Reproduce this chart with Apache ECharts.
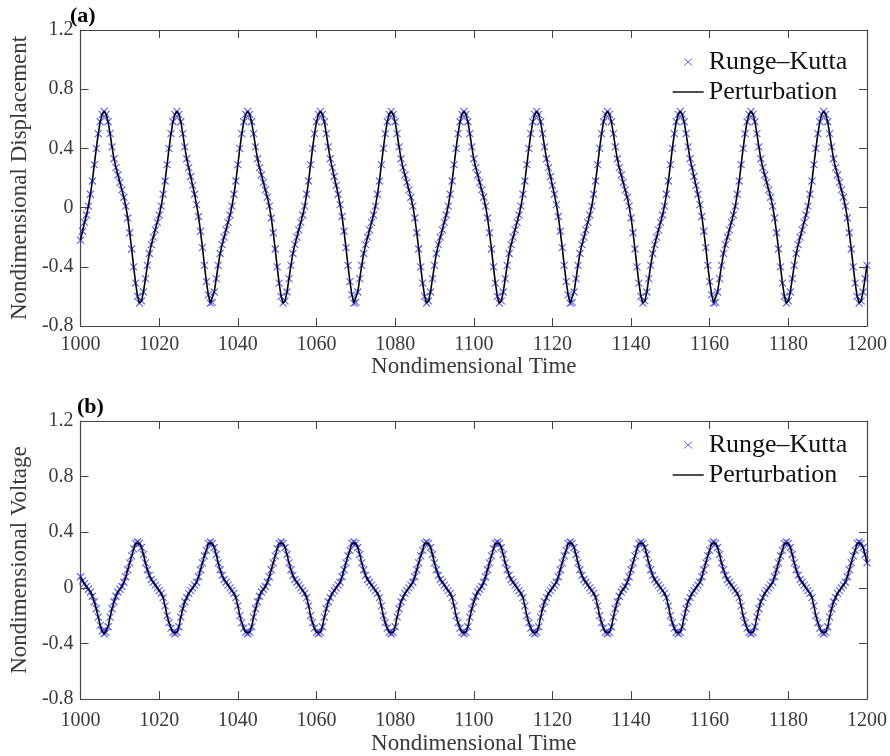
<!DOCTYPE html>
<html>
<head>
<meta charset="utf-8">
<script src="https://cdn.jsdelivr.net/npm/echarts@6/dist/echarts.min.js"></script>
<style>
html,body{margin:0;padding:0;background:#fff;}
#chart{width:890px;height:756px;}
</style>
</head>
<body>
<div id="chart"></div>
<script>
// ---- data ----
const timeStart = 1000;      // first sample time
const timeStep = 0.5;        // sampling step of the readings
const xTicks = [1000, 1020, 1040, 1060, 1080, 1100, 1120, 1140, 1160, 1180, 1200];
const yTicks = [-0.8, -0.4, 0, 0.4, 0.8, 1.2];
const seriesNames = ['Runge–Kutta', 'Perturbation'];

// (a) nondimensional displacement, t = 1000 ... 1200 every 0.5
const displacement = [
-0.22,-0.16,-0.10,-0.05,0.01,0.09,0.18,0.29,0.40,0.50,0.58,0.63,
0.65,0.63,0.58,0.50,0.41,0.33,0.27,0.22,0.17,0.12,0.07,0.01,-0.07,-0.17,-0.28,-0.40,-0.51,-0.60,-0.645,-0.63,-0.57,-0.48,-0.39,-0.31,-0.25,-0.20,-0.15,-0.10,-0.05,0.01,0.09,0.18,0.29,0.40,0.50,0.58,0.63,
0.65,0.63,0.58,0.50,0.41,0.33,0.27,0.21,0.15,0.09,0.02,-0.06,-0.16,-0.27,-0.39,-0.50,-0.59,-0.645,-0.64,-0.57,-0.48,-0.39,-0.31,-0.25,-0.20,-0.15,-0.10,-0.05,0.01,0.09,0.18,0.29,0.40,0.50,0.58,0.63,
0.65,0.63,0.58,0.50,0.41,0.33,0.27,0.22,0.17,0.12,0.07,0.01,-0.07,-0.17,-0.28,-0.40,-0.51,-0.60,-0.645,-0.63,-0.57,-0.48,-0.39,-0.31,-0.25,-0.20,-0.15,-0.10,-0.05,0.01,0.09,0.18,0.29,0.40,0.50,0.58,0.63,
0.65,0.63,0.58,0.50,0.41,0.33,0.27,0.21,0.15,0.09,0.02,-0.06,-0.16,-0.27,-0.39,-0.50,-0.59,-0.645,-0.64,-0.57,-0.48,-0.39,-0.31,-0.25,-0.20,-0.15,-0.10,-0.05,0.01,0.09,0.18,0.29,0.40,0.50,0.58,0.63,
0.65,0.63,0.58,0.50,0.41,0.33,0.27,0.22,0.17,0.12,0.07,0.01,-0.07,-0.17,-0.28,-0.40,-0.51,-0.60,-0.645,-0.63,-0.57,-0.48,-0.39,-0.31,-0.25,-0.20,-0.15,-0.10,-0.05,0.01,0.09,0.18,0.29,0.40,0.50,0.58,0.63,
0.65,0.63,0.58,0.50,0.41,0.33,0.27,0.22,0.17,0.12,0.07,0.01,-0.07,-0.17,-0.28,-0.40,-0.51,-0.60,-0.645,-0.63,-0.57,-0.48,-0.39,-0.31,-0.25,-0.20,-0.15,-0.10,-0.05,0.01,0.09,0.18,0.29,0.40,0.50,0.58,0.63,
0.65,0.63,0.58,0.50,0.41,0.33,0.27,0.21,0.15,0.09,0.02,-0.06,-0.16,-0.27,-0.39,-0.50,-0.59,-0.645,-0.64,-0.57,-0.48,-0.39,-0.31,-0.25,-0.20,-0.15,-0.10,-0.05,0.01,0.09,0.18,0.29,0.40,0.50,0.58,0.63,
0.65,0.63,0.58,0.50,0.41,0.33,0.27,0.22,0.17,0.12,0.07,0.01,-0.07,-0.17,-0.28,-0.40,-0.51,-0.60,-0.645,-0.63,-0.57,-0.48,-0.39,-0.31,-0.25,-0.20,-0.15,-0.10,-0.05,0.01,0.09,0.18,0.29,0.40,0.50,0.58,0.63,
0.65,0.63,0.58,0.50,0.41,0.33,0.27,0.21,0.15,0.09,0.02,-0.06,-0.16,-0.27,-0.39,-0.50,-0.59,-0.645,-0.64,-0.57,-0.48,-0.39,-0.31,-0.25,-0.20,-0.15,-0.10,-0.05,0.01,0.09,0.18,0.29,0.40,0.50,0.58,0.63,
0.65,0.63,0.58,0.50,0.41,0.33,0.27,0.22,0.17,0.12,0.07,0.01,-0.07,-0.17,-0.28,-0.40,-0.51,-0.60,-0.645,-0.63,-0.57,-0.48,-0.39,-0.31,-0.25,-0.20,-0.15,-0.10,-0.05,0.01,0.09,0.18,0.29,0.40,0.50,0.58,0.63,
0.65,0.63,0.58,0.50,0.41,0.33,0.27,0.22,0.17,0.12,0.07,0.01,-0.07,-0.17,-0.28,-0.40,-0.51,-0.60,-0.645,-0.63,-0.57,-0.48,-0.39
];

// (b) nondimensional voltage, t = 1000 ... 1200 every 0.5
const voltage = [
0.08,0.05,0.03,0.01,-0.01,-0.03,-0.06,-0.10,-0.15,-0.21,-0.27,-0.31,
-0.33,-0.32,-0.28,-0.21,-0.15,-0.10,-0.06,-0.03,-0.01,0.01,0.04,0.08,0.13,0.18,0.23,0.28,0.32,0.33,0.32,0.29,0.24,0.18,0.13,0.09,0.06,0.04,0.02,0.00,-0.02,-0.04,-0.07,-0.13,-0.20,-0.25,-0.29,-0.32,
-0.33,-0.32,-0.28,-0.21,-0.15,-0.10,-0.07,-0.04,-0.02,0.00,0.02,0.04,0.08,0.13,0.18,0.23,0.27,0.32,0.33,0.32,0.29,0.24,0.18,0.13,0.09,0.06,0.04,0.02,0.00,-0.02,-0.04,-0.07,-0.13,-0.20,-0.25,-0.29,-0.32,
-0.33,-0.32,-0.28,-0.21,-0.15,-0.10,-0.06,-0.03,-0.01,0.01,0.04,0.08,0.13,0.18,0.23,0.28,0.32,0.33,0.32,0.29,0.24,0.18,0.13,0.09,0.06,0.04,0.02,0.00,-0.02,-0.04,-0.07,-0.13,-0.20,-0.25,-0.29,-0.32,
-0.33,-0.32,-0.28,-0.21,-0.15,-0.10,-0.07,-0.04,-0.02,0.00,0.02,0.04,0.08,0.13,0.18,0.23,0.27,0.32,0.33,0.32,0.29,0.24,0.18,0.13,0.09,0.06,0.04,0.02,0.00,-0.02,-0.04,-0.07,-0.13,-0.20,-0.25,-0.29,-0.32,
-0.33,-0.32,-0.28,-0.21,-0.15,-0.10,-0.07,-0.04,-0.02,0.00,0.02,0.04,0.08,0.13,0.18,0.23,0.27,0.32,0.33,0.32,0.29,0.24,0.18,0.13,0.09,0.06,0.04,0.02,0.00,-0.02,-0.04,-0.07,-0.13,-0.20,-0.25,-0.29,-0.32,
-0.33,-0.32,-0.28,-0.21,-0.15,-0.10,-0.06,-0.03,-0.01,0.01,0.04,0.08,0.13,0.18,0.23,0.28,0.32,0.33,0.32,0.29,0.24,0.18,0.13,0.09,0.06,0.04,0.02,0.00,-0.02,-0.04,-0.07,-0.13,-0.20,-0.25,-0.29,-0.32,
-0.33,-0.32,-0.28,-0.21,-0.15,-0.10,-0.07,-0.04,-0.02,0.00,0.02,0.04,0.08,0.13,0.18,0.23,0.27,0.32,0.33,0.32,0.29,0.24,0.18,0.13,0.09,0.06,0.04,0.02,0.00,-0.02,-0.04,-0.07,-0.13,-0.20,-0.25,-0.29,-0.32,
-0.33,-0.32,-0.28,-0.21,-0.15,-0.10,-0.06,-0.03,-0.01,0.01,0.04,0.08,0.13,0.18,0.23,0.28,0.32,0.33,0.32,0.29,0.24,0.18,0.13,0.09,0.06,0.04,0.02,0.00,-0.02,-0.04,-0.07,-0.13,-0.20,-0.25,-0.29,-0.32,
-0.33,-0.32,-0.28,-0.21,-0.15,-0.10,-0.07,-0.04,-0.02,0.00,0.02,0.04,0.08,0.13,0.18,0.23,0.27,0.32,0.33,0.32,0.29,0.24,0.18,0.13,0.09,0.06,0.04,0.02,0.00,-0.02,-0.04,-0.07,-0.13,-0.20,-0.25,-0.29,-0.32,
-0.33,-0.32,-0.28,-0.21,-0.15,-0.10,-0.07,-0.04,-0.02,0.00,0.02,0.04,0.08,0.13,0.18,0.23,0.27,0.32,0.33,0.32,0.29,0.24,0.18,0.13,0.09,0.06,0.04,0.02,0.00,-0.02,-0.04,-0.07,-0.13,-0.20,-0.25,-0.29,-0.32,
-0.33,-0.32,-0.28,-0.21,-0.15,-0.10,-0.07,-0.04,-0.02,0.00,0.02,0.04,0.08,0.13,0.18,0.23,0.27,0.32,0.33,0.32,0.29,0.24,0.18
];

// Runge–Kutta markers lie on the perturbation curve in the picture
const rkDisplacement = displacement;
const rkVoltage = voltage;

// ---- chart ----
const FONT = '"Liberation Serif", "Times New Roman", serif';
const AXIS_COLOR = '#444';
const LABEL_COLOR = '#3a3a3a';
const CROSS = 'path://M0,0L10,10M10,0L0,10';
const CROSS_ICON = 'path://M0,0M31,14M11.5,3.5L19.5,10.5M19.5,3.5L11.5,10.5';
const LINE_ICON = 'path://M0,0M31,14M0,7L31,7';
const MARK_COLOR = 'rgba(40,40,255,0.9)';

function pairs(vals) {
  return vals.map((v, i) => [timeStart + i * timeStep, v]);
}

function xAxes(grid, labelMargin, nameGap) {
  const base = {
    gridIndex: grid, type: 'value',
    min: xTicks[0], max: xTicks[xTicks.length - 1], interval: xTicks[1] - xTicks[0],
    splitLine: {show: false},
    axisLine: {show: true, onZero: false, lineStyle: {color: AXIS_COLOR, width: 1.2}},
    axisTick: {show: true, inside: true, length: 8, lineStyle: {color: AXIS_COLOR, width: 1}}
  };
  return [
    Object.assign({}, base, {
      position: 'bottom',
      axisLabel: {show: true, margin: labelMargin, fontFamily: FONT, fontSize: 20, color: LABEL_COLOR, showMinLabel: true, showMaxLabel: true,
        formatter: v => String(Math.round(v))},
      name: 'Nondimensional Time', nameLocation: 'middle', nameGap: nameGap,
      nameTextStyle: {fontFamily: FONT, fontSize: 23, color: LABEL_COLOR}
    }),
    Object.assign({}, base, {position: 'top', axisLabel: {show: false}})
  ];
}

function yAxes(grid, name, nameGap) {
  const base = {
    gridIndex: grid, type: 'value',
    min: yTicks[0], max: yTicks[yTicks.length - 1], interval: yTicks[1] - yTicks[0],
    splitLine: {show: false},
    axisLine: {show: true, onZero: false, lineStyle: {color: AXIS_COLOR, width: 1.2}},
    axisTick: {show: true, inside: true, length: 8, lineStyle: {color: AXIS_COLOR, width: 1}}
  };
  return [
    Object.assign({}, base, {
      position: 'left',
      axisLabel: {show: true, margin: 7, fontFamily: FONT, fontSize: 20, color: LABEL_COLOR, showMinLabel: true, showMaxLabel: true,
        formatter: v => (Math.abs(v) < 1e-9 ? '0' : v.toFixed(1))},
      name: name, nameLocation: 'middle', nameGap: nameGap, nameRotate: 90,
      nameTextStyle: {fontFamily: FONT, fontSize: 23, color: LABEL_COLOR}
    }),
    Object.assign({}, base, {position: 'right', axisLabel: {show: false}})
  ];
}

function legendFor(top) {
  return {
    orient: 'vertical', left: 672, top: top, padding: 0, itemGap: 4,
    itemWidth: 31, itemHeight: 14, selectedMode: false,
    textStyle: {fontFamily: FONT, fontSize: 26, color: '#111'},
    data: [
      {name: seriesNames[0], icon: CROSS_ICON, itemStyle: {color: 'rgba(0,0,0,0)', borderColor: MARK_COLOR, borderWidth: 1}},
      {name: seriesNames[1], icon: LINE_ICON, itemStyle: {color: 'rgba(0,0,0,0)', borderColor: '#000', borderWidth: 1.4}}
    ]
  };
}

function scatterSeries(x, y, vals, size) {
  return {
    type: 'scatter', name: seriesNames[0], xAxisIndex: x, yAxisIndex: y,
    data: pairs(vals), symbol: CROSS, symbolSize: size, silent: true, z: 2,
    itemStyle: {color: 'rgba(0,0,0,0)', borderColor: MARK_COLOR, borderWidth: 1.2}
  };
}
function lineSeries(x, y, vals) {
  return {
    type: 'line', name: seriesNames[1], xAxisIndex: x, yAxisIndex: y,
    data: pairs(vals), symbol: 'none', showSymbol: false, silent: true, z: 3,
    lineStyle: {color: '#000', width: 1.6}, itemStyle: {color: '#000'}
  };
}

const chart = echarts.init(document.getElementById('chart'), null, {renderer: 'canvas'});
chart.setOption({
  animation: false,
  backgroundColor: '#fff',
  grid: [
    {left: 72, top: 30, width: 796, height: 296},
    {left: 77, top: 421, width: 790, height: 281}
  ],
  xAxis: [].concat(xAxes(0, 9, 24), xAxes(1, 12, 28)),
  yAxis: [].concat(yAxes(0, 'Nondimensional Displacement', 42), yAxes(1, 'Nondimensional Voltage', 46)),
  legend: [legendFor(49), legendFor(432)],
  graphic: [
    {type: 'text', left: 70, top: 5, style: {text: '(a)', font: 'bold 22px "Liberation Serif", serif', fill: '#000'}},
    {type: 'text', left: 77, top: 396, style: {text: '(b)', font: 'bold 22px "Liberation Serif", serif', fill: '#000'}}
  ],
  series: [
    scatterSeries(0, 0, rkDisplacement, 7),
    lineSeries(0, 0, displacement),
    scatterSeries(2, 2, rkVoltage, 7),
    lineSeries(2, 2, voltage)
  ]
});
</script>
</body>
</html>
